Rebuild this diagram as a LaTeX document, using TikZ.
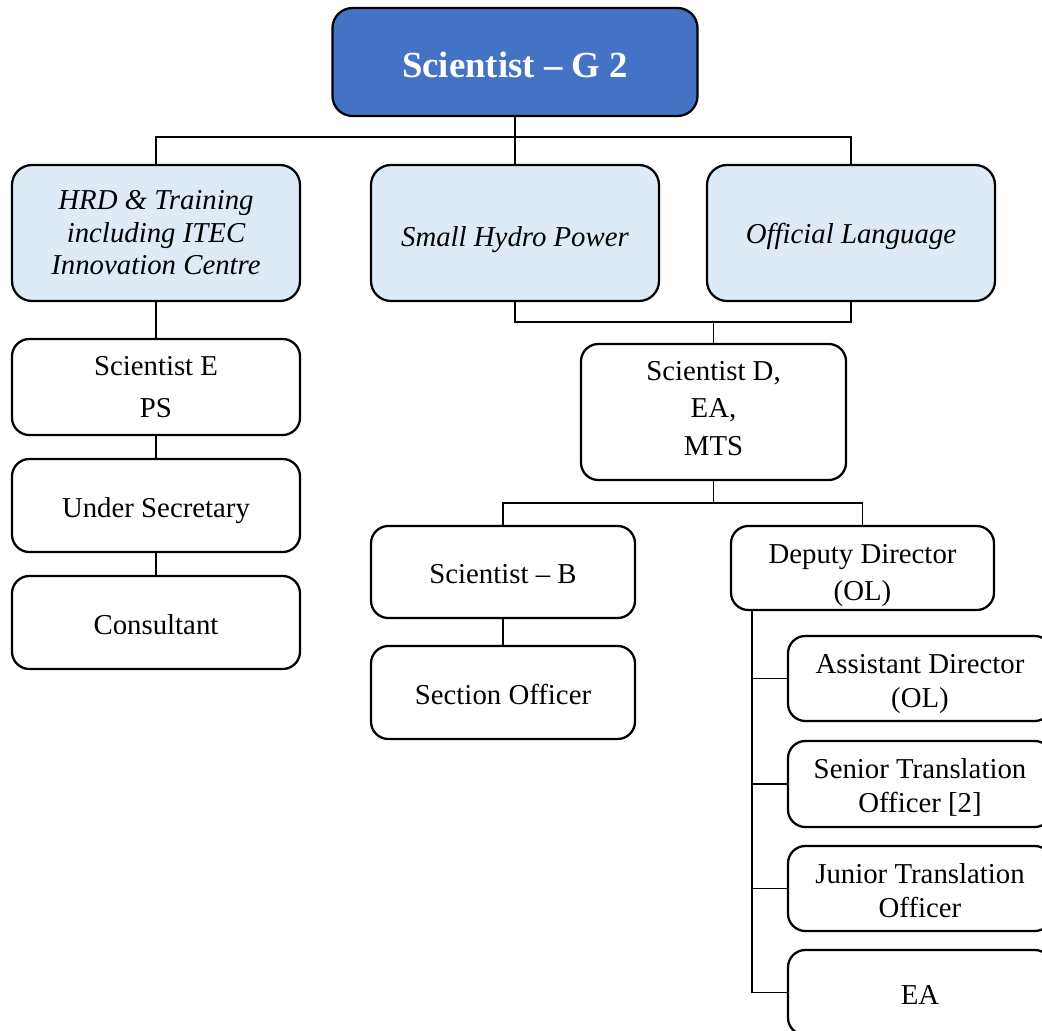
\documentclass[tikz,border=0pt]{standalone}
\usepackage{fontspec}
\setmainfont{Liberation Serif}
\definecolor{headblue}{HTML}{4472C4}
\definecolor{unitblue}{HTML}{DEEBF7}
\tikzset{
  orgbox/.style={draw=black, line width=1.7pt, rounded corners=13pt, fill=white,
    inner sep=0pt, outer sep=0pt, align=center, text=black,
    font=\fontsize{21.6}{26}\selectfont},
  oneline/.style={text height=#1, text depth=4.3pt},
  oneline/.default=21.6pt,
  unitbox/.style={orgbox, fill=unitblue, rounded corners=15pt,
    minimum width=216pt, minimum height=102pt,
    font=\fontsize{21.6}{24.4}\selectfont\itshape},
  headbox/.style={orgbox, fill=headblue, text=white, rounded corners=15pt,
    minimum width=273.75pt, minimum height=81pt,
    font=\fontsize{27.6}{32}\selectfont\bfseries},
  conn/.style={draw=black, line width=1.3pt}
}
\begin{document}
\begin{tikzpicture}[x=0.75pt, y=-0.75pt]
\useasboundingbox (0,0) rectangle (1042,1031);

% head of the division
\node[headbox, text height=29.5pt, text depth=5.5pt] (g2) at (515,62) {Scientist -- G 2};

% units
\node[unitbox] (hrd) at (156,233) {HRD \& Training\\including ITEC\\Innovation Centre};
\node[unitbox, oneline=24.6pt] (shp) at (515,233) {Small Hydro Power};
\node[unitbox, oneline=20.1pt] (ol)  at (851,233) {Official Language};

% HRD column
\node[orgbox, minimum width=216pt, minimum height=72pt,
      font=\fontsize{21.6}{31.5}\selectfont] (scie) at (156,387) {Scientist E\\PS};
\node[orgbox, oneline, minimum width=216pt, minimum height=69.75pt] (usec) at (156,505.5) {Under Secretary};
\node[orgbox, oneline, minimum width=216pt, minimum height=69.75pt] (cons) at (156,622.5) {Consultant};

% shared staff of SHP and OL
\node[orgbox, minimum width=198.75pt, minimum height=102pt, text height=64.75pt,
      font=\fontsize{21.6}{28}\selectfont] (scid) at (713.5,412) {Scientist D,\\EA,\\MTS};

\node[orgbox, oneline, minimum width=198pt, minimum height=69pt] (scib) at (503,572) {Scientist -- B};
\node[orgbox, oneline, minimum width=198pt, minimum height=69.75pt] (secoff) at (503,692.5) {Section Officer};

\node[orgbox, minimum width=197.25pt, minimum height=63pt, text height=53pt,
      font=\fontsize{21.6}{27.75}\selectfont] (dd) at (862.5,568) {Deputy Director\\(OL)};

% official language cell
\node[orgbox, minimum width=198pt, minimum height=63.75pt, text height=47.75pt,
      font=\fontsize{21.6}{25.5}\selectfont] (ad) at (920,678.5) {Assistant Director\\(OL)};
\node[orgbox, minimum width=198pt, minimum height=64.5pt, text height=46.25pt,
      font=\fontsize{21.6}{25.5}\selectfont] (sto) at (920,784) {Senior Translation\\Officer [2]};
\node[orgbox, minimum width=198pt, minimum height=63.75pt, text height=43.25pt,
      font=\fontsize{21.6}{25.5}\selectfont] (jto) at (920,888.5) {Junior Translation\\Officer};
\node[orgbox, oneline, minimum width=198pt, minimum height=63.75pt] (ea) at (920,992.5) {EA};

% connectors
\draw[conn] (hrd.north) -- ++(0,-28) -| (ol.north);
\draw[conn] (g2.south) -- (shp.north);

\draw[conn] (shp.south) -- ++(0,21) -| (ol.south);
\draw[conn] (scid.north) -- ++(0,-22);

\draw[conn] (scib.north) -- ++(0,-23) -| (dd.north);
\draw[conn] (scid.south) -- ++(0,23);
\draw[conn] (scib.south) -- (secoff.north);

\draw[conn] (hrd.south) -- (scie.north);
\draw[conn] (scie.south) -- (usec.north);
\draw[conn] (usec.south) -- (cons.north);

\coordinate (trunk) at ([xshift=15.75pt]dd.south west);
\draw[conn] (trunk) |- (ea.west);
\draw[conn] (trunk |- ad.west) -- (ad.west);
\draw[conn] (trunk |- sto.west) -- (sto.west);
\draw[conn] (trunk |- jto.west) -- (jto.west);
\end{tikzpicture}
\end{document}
